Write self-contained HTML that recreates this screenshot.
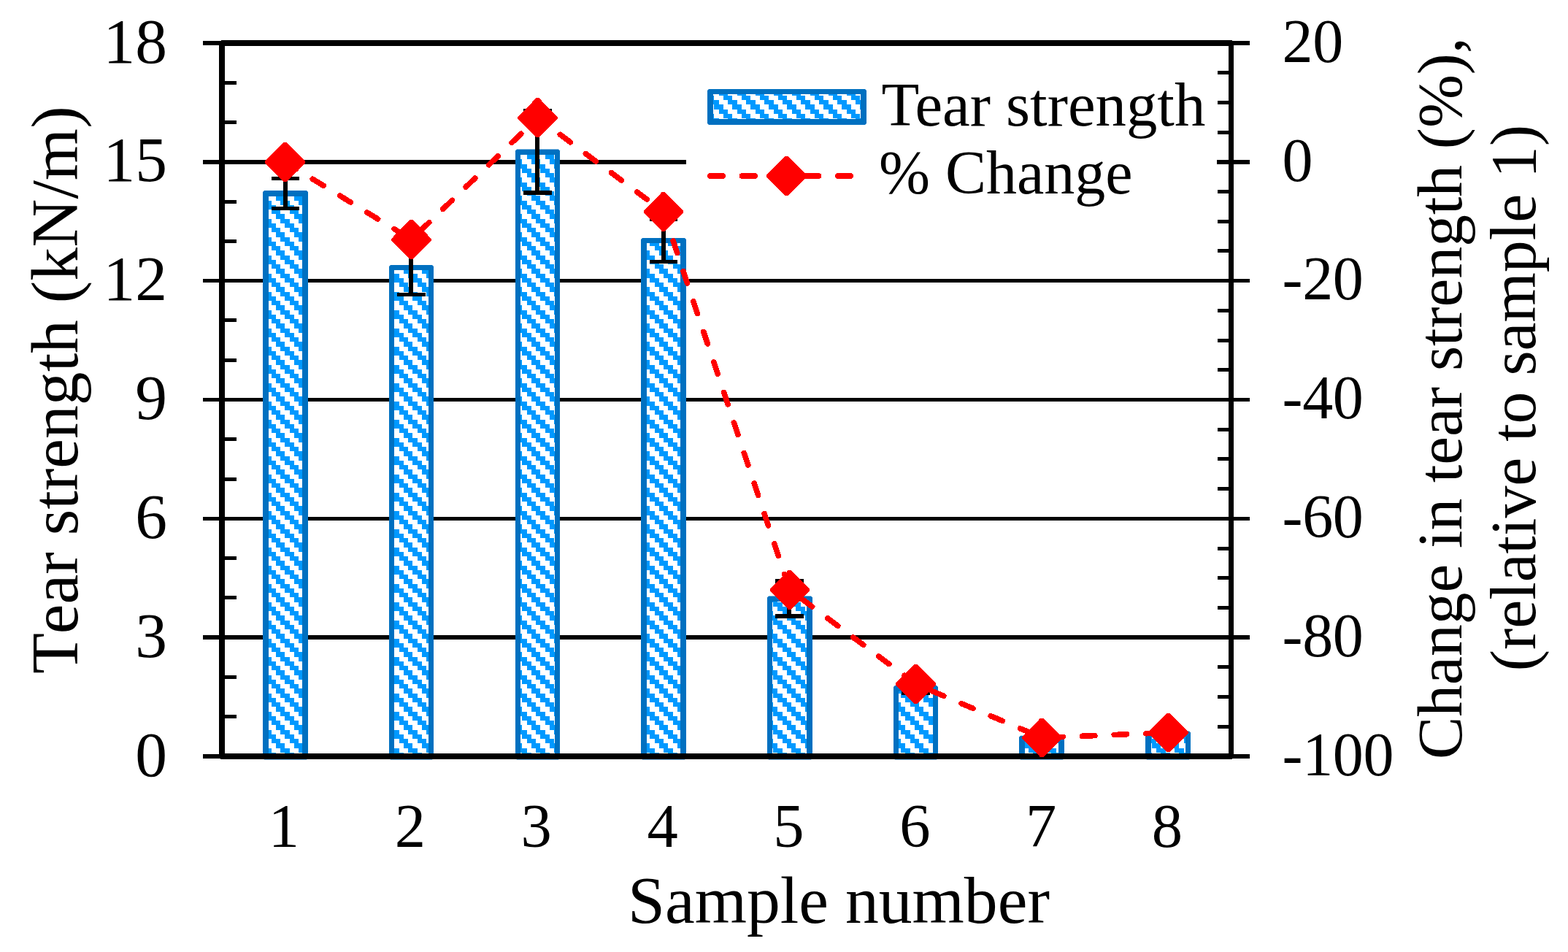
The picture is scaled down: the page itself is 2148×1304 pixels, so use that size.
<!DOCTYPE html>
<html lang="en"><head><meta charset="utf-8"><title>Tear strength vs sample number</title>
<style>html,body{margin:0;padding:0;background:#fff;}body{width:2148px;height:1304px;overflow:hidden;}svg{display:block;}text{font-family:"Liberation Serif","DejaVu Serif",serif;fill:#000;}</style>
</head><body>
<svg width="2148" height="1304" viewBox="0 0 2148 1304">
<defs>
<pattern id="hatch" patternUnits="userSpaceOnUse" x="22" y="0" width="25" height="25">
<rect x="0" y="0" width="25" height="25" fill="#fff"/>
<path d="M12 0h6v6h-6zM18 0h7v6h-7zM0 6h6v6h-6zM18 6h7v6h-7zM0 12h6v6h-6zM6 12h6v6h-6zM6 18h6v7h-6zM12 18h6v7h-6z" fill="#0099FF" shape-rendering="crispEdges"/>
</pattern>
<pattern id="hatchL" patternUnits="userSpaceOnUse" x="10" y="0" width="25" height="25">
<rect x="0" y="0" width="25" height="25" fill="#fff"/>
<path d="M0 0h6v6h-6zM6 0h6v6h-6zM6 6h6v6h-6zM12 6h6v6h-6zM12 12h6v6h-6zM18 12h7v6h-7zM0 18h6v7h-6zM18 18h7v7h-7z" fill="#0099FF" shape-rendering="crispEdges"/>
</pattern>
</defs>
<rect x="0" y="0" width="2148" height="1304" fill="#fff"/>
<g fill="#000" shape-rendering="crispEdges">
<rect x="278" y="219" width="1434" height="6"/>
<rect x="278" y="382" width="1434" height="5"/>
<rect x="278" y="545" width="1434" height="5"/>
<rect x="278" y="708" width="1434" height="5"/>
<rect x="278" y="870" width="1434" height="6"/>
<rect x="278" y="56" width="26" height="6"/>
<rect x="1686" y="56" width="26" height="6"/>
<rect x="278" y="1033" width="26" height="6"/>
<rect x="1686" y="1033" width="26" height="6"/>
</g>
<rect x="940" y="70" width="727" height="220" fill="#fff"/>
<g fill="#000" shape-rendering="crispEdges">
<rect x="304" y="979" width="20" height="5"/>
<rect x="304" y="925" width="20" height="5"/>
<rect x="304" y="816" width="20" height="5"/>
<rect x="304" y="762" width="20" height="5"/>
<rect x="304" y="654" width="20" height="5"/>
<rect x="304" y="599" width="20" height="5"/>
<rect x="304" y="491" width="20" height="5"/>
<rect x="304" y="436" width="20" height="5"/>
<rect x="304" y="328" width="20" height="5"/>
<rect x="304" y="274" width="20" height="5"/>
<rect x="304" y="165" width="20" height="5"/>
<rect x="304" y="111" width="20" height="5"/>
<rect x="1668" y="993" width="18" height="5"/>
<rect x="1668" y="952" width="18" height="5"/>
<rect x="1668" y="911" width="18" height="5"/>
<rect x="1668" y="830" width="18" height="5"/>
<rect x="1668" y="789" width="18" height="5"/>
<rect x="1668" y="749" width="18" height="5"/>
<rect x="1668" y="667" width="18" height="5"/>
<rect x="1668" y="626" width="18" height="5"/>
<rect x="1668" y="586" width="18" height="5"/>
<rect x="1668" y="504" width="18" height="5"/>
<rect x="1668" y="464" width="18" height="5"/>
<rect x="1668" y="423" width="18" height="5"/>
<rect x="1668" y="341" width="18" height="5"/>
<rect x="1668" y="301" width="18" height="5"/>
<rect x="1668" y="260" width="18" height="5"/>
<rect x="1668" y="179" width="18" height="5"/>
<rect x="1668" y="138" width="18" height="5"/>
<rect x="1668" y="97" width="18" height="5"/>
<rect x="1667" y="219" width="45" height="6"/>
</g>
<g>
<path d="M362 261L420 261L422 263L422 1038.6L420 1040.6L362 1040.6L360 1038.6L360 263z" fill="#0070C0"/>
<rect x="368" y="269" width="46" height="764" fill="url(#hatch)"/>
<path d="M535 363L592 363L594 365L594 1038.6L592 1040.6L535 1040.6L533 1038.6L533 365z" fill="#0070C0"/>
<rect x="540" y="370" width="47" height="663" fill="url(#hatch)"/>
<path d="M708 204.5L765 204.5L767 206.5L767 1038.6L765 1040.6L708 1040.6L706 1038.6L706 206.5z" fill="#0070C0"/>
<rect x="713" y="212" width="47" height="821" fill="url(#hatch)"/>
<path d="M880 326L938 326L940 328L940 1038.6L938 1040.6L880 1040.6L878 1038.6L878 328z" fill="#0070C0"/>
<rect x="886" y="333" width="46" height="700" fill="url(#hatch)"/>
<path d="M1053 816.6L1111 816.6L1113 818.6L1113 1038.6L1111 1040.6L1053 1040.6L1051 1038.6L1051 818.6z" fill="#0070C0"/>
<rect x="1058" y="824" width="47" height="209" fill="url(#hatch)"/>
<path d="M1226 939L1283 939L1285 941L1285 1038.6L1283 1040.6L1226 1040.6L1224 1038.6L1224 941z" fill="#0070C0"/>
<rect x="1231" y="947" width="47" height="86" fill="url(#hatch)"/>
<path d="M1398 1007.8L1456 1007.8L1458 1009.8L1458 1038.6L1456 1040.6L1398 1040.6L1396 1038.6L1396 1009.8z" fill="#0070C0"/>
<rect x="1404" y="1015" width="46" height="18" fill="url(#hatch)"/>
<path d="M1571 1001.4L1629 1001.4L1631 1003.4L1631 1038.6L1629 1040.6L1571 1040.6L1569 1038.6L1569 1003.4z" fill="#0070C0"/>
<rect x="1577" y="1009" width="47" height="24" fill="url(#hatch)"/>
</g>
<g fill="#000" shape-rendering="crispEdges">
<rect x="388" y="242" width="6" height="46"/>
<rect x="372" y="242" width="38" height="5"/>
<rect x="372" y="283" width="38" height="5"/>
<rect x="560" y="328" width="6" height="78"/>
<rect x="544" y="328" width="39" height="5"/>
<rect x="544" y="401" width="39" height="5"/>
<rect x="733" y="149" width="6" height="118"/>
<rect x="717" y="149" width="39" height="6"/>
<rect x="717" y="261" width="39" height="6"/>
<rect x="906" y="298" width="6" height="63"/>
<rect x="890" y="298" width="38" height="5"/>
<rect x="890" y="356" width="38" height="5"/>
<rect x="1078" y="793" width="6" height="54"/>
<rect x="1062" y="793" width="39" height="6"/>
<rect x="1062" y="841" width="39" height="6"/>
<rect x="1251" y="933" width="6" height="19"/>
<rect x="1235" y="933" width="39" height="5"/>
<rect x="1235" y="947" width="39" height="5"/>
</g>
<g fill="#000" shape-rendering="crispEdges">
<rect x="303" y="55" width="1385" height="8"/>
<rect x="302" y="1032" width="1386" height="8"/>
<rect x="300" y="56" width="8" height="983"/>
<rect x="1683" y="56" width="7" height="983"/>
</g>
<path d="M390.50 222.00L563.50 328.15L736.50 161.35L908.90 290.00L1081.90 808.00L1254.50 937.05L1427.40 1010.50L1600.50 1003.50" fill="none" stroke="#FF0000" stroke-width="7.6" stroke-linecap="round" stroke-linejoin="round" stroke-dasharray="17.4 26.35" stroke-dashoffset="-0.5" shape-rendering="crispEdges"/>
<g fill="#FF0000" shape-rendering="crispEdges">
<path d="M363.10 223.20L363.10 220.80L388.50 195.10L392.50 195.10L417.90 220.80L417.90 223.20L392.50 248.90L388.50 248.90z"/>
<path d="M536.10 329.35L536.10 326.95L561.50 301.25L565.50 301.25L590.90 326.95L590.90 329.35L565.50 355.05L561.50 355.05z"/>
<path d="M709.10 162.55L709.10 160.15L734.50 134.45L738.50 134.45L763.90 160.15L763.90 162.55L738.50 188.25L734.50 188.25z"/>
<path d="M881.50 291.20L881.50 288.80L906.90 263.10L910.90 263.10L936.30 288.80L936.30 291.20L910.90 316.90L906.90 316.90z"/>
<path d="M1054.50 809.20L1054.50 806.80L1079.90 781.10L1083.90 781.10L1109.30 806.80L1109.30 809.20L1083.90 834.90L1079.90 834.90z"/>
<path d="M1227.10 938.25L1227.10 935.85L1252.50 910.15L1256.50 910.15L1281.90 935.85L1281.90 938.25L1256.50 963.95L1252.50 963.95z"/>
<path d="M1400.00 1011.70L1400.00 1009.30L1425.40 983.60L1429.40 983.60L1454.80 1009.30L1454.80 1011.70L1429.40 1037.40L1425.40 1037.40z"/>
<path d="M1573.10 1004.70L1573.10 1002.30L1598.50 976.60L1602.50 976.60L1627.90 1002.30L1627.90 1004.70L1602.50 1030.40L1598.50 1030.40z"/>
</g>
<path d="M971 122L1185 122L1187 124L1187 169L1185 171L971 171L969 169L969 124z" fill="#0070C0"/>
<rect x="977" y="129" width="202" height="34" fill="url(#hatchL)"/>
<path d="M973 241H1170" fill="none" stroke="#FF0000" stroke-width="8" stroke-linecap="round" stroke-dasharray="17 26.75" shape-rendering="crispEdges"/>
<path d="M1050.20 242.20L1050.20 239.80L1075.60 214.10L1079.60 214.10L1105.00 239.80L1105.00 242.20L1079.60 267.90L1075.60 267.90z" fill="#FF0000" shape-rendering="crispEdges"/>
<text x="229.00" y="1062.60" font-size="87.5" text-anchor="end">0</text>
<text x="229.00" y="899.77" font-size="87.5" text-anchor="end">3</text>
<text x="229.00" y="736.93" font-size="87.5" text-anchor="end">6</text>
<text x="229.00" y="574.10" font-size="87.5" text-anchor="end">9</text>
<text x="229.00" y="411.27" font-size="87.5" text-anchor="end">12</text>
<text x="229.00" y="248.43" font-size="87.5" text-anchor="end">15</text>
<text x="229.00" y="85.60" font-size="87.5" text-anchor="end">18</text>
<text x="1756.50" y="1061.80" font-size="84" text-anchor="start" letter-spacing="-0.3">-100</text>
<text x="1756.50" y="898.97" font-size="84" text-anchor="start" letter-spacing="-0.3">-80</text>
<text x="1756.50" y="736.13" font-size="84" text-anchor="start" letter-spacing="-0.3">-60</text>
<text x="1756.50" y="573.30" font-size="84" text-anchor="start" letter-spacing="-0.3">-40</text>
<text x="1756.50" y="410.47" font-size="84" text-anchor="start" letter-spacing="-0.3">-20</text>
<text x="1756.50" y="247.63" font-size="84" text-anchor="start" letter-spacing="-0.3">0</text>
<text x="1756.50" y="84.80" font-size="84" text-anchor="start" letter-spacing="-0.3">20</text>
<text x="389.00" y="1159.80" font-size="84.6" text-anchor="middle">1</text>
<text x="561.86" y="1159.80" font-size="84.6" text-anchor="middle">2</text>
<text x="734.72" y="1159.80" font-size="84.6" text-anchor="middle">3</text>
<text x="907.58" y="1159.80" font-size="84.6" text-anchor="middle">4</text>
<text x="1080.44" y="1159.80" font-size="84.6" text-anchor="middle">5</text>
<text x="1253.30" y="1159.80" font-size="84.6" text-anchor="middle">6</text>
<text x="1426.16" y="1159.80" font-size="84.6" text-anchor="middle">7</text>
<text x="1599.02" y="1159.80" font-size="84.6" text-anchor="middle">8</text>
<text x="1149.00" y="1263.50" font-size="91.67" text-anchor="middle">Sample number</text>
<text transform="translate(106.30 534.20) rotate(-90)" font-size="91.67" text-anchor="middle" dx="0 5.3">Tear strength (kN/m)</text>
<text transform="translate(2002.00 545.60) rotate(-90)" font-size="87.5" text-anchor="middle">Change in tear strength (%),</text>
<text transform="translate(2103.00 545.00) rotate(-90)" font-size="87.8" text-anchor="middle">(relative to sample 1)</text>
<text x="1207.50" y="171.60" font-size="84.8" text-anchor="start">Tear strength</text>
<text x="1204.00" y="265.30" font-size="84" text-anchor="start">% Change</text>
</svg>
</body></html>
